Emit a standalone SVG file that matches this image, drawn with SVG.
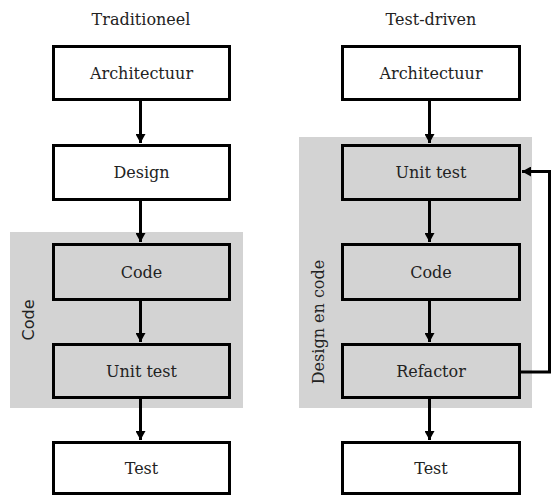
<svg xmlns="http://www.w3.org/2000/svg" width="552" height="496" viewBox="0 0 552 496">
<style>
.box{stroke:#000;stroke-width:3}
.w{fill:#fff}
.g{fill:#d3d3d3}
.lbl{font-family:"DejaVu Serif","Liberation Serif",serif;font-size:16px;fill:#222;text-anchor:middle}
.conn{stroke:#000;stroke-width:3;fill:none}
</style>
<defs>
<marker id="ah" markerWidth="12" markerHeight="10" refX="9" refY="5" orient="auto" markerUnits="userSpaceOnUse">
<path d="M0,0 L9,5 L0,10 Z" fill="#000"/>
</marker>
</defs>
<rect width="552" height="496" fill="#fff"/>
<g id="group-code">
<rect x="10" y="232" width="233" height="176" fill="#d3d3d3"/>
<text class="lbl" transform="translate(34,320) rotate(-90)" style="font-family:'DejaVu Sans',sans-serif">Code</text>
</g>
<g id="group-design-en-code">
<rect x="299" y="137" width="233" height="271" fill="#d3d3d3"/>
<text class="lbl" transform="translate(324,322) rotate(-90)">Design en code</text>
</g>
<g id="title-left"><text class="lbl" x="141" y="25">Traditioneel</text></g>
<g id="title-right"><text class="lbl" x="431" y="25">Test-driven</text></g>
<g id="l-arch"><rect class="box w" x="53.5" y="46.5" width="176" height="53"/><text class="lbl" x="141.5" y="79">Architectuur</text></g>
<g id="l-design"><rect class="box w" x="53.5" y="145.5" width="176" height="54"/><text class="lbl" x="141.5" y="178">Design</text></g>
<g id="l-code"><rect class="box g" x="53.5" y="244.5" width="176" height="55"/><text class="lbl" x="141.5" y="278">Code</text></g>
<g id="l-unit"><rect class="box g" x="53.5" y="344.5" width="176" height="53"/><text class="lbl" x="141.5" y="377">Unit test</text></g>
<g id="l-test"><rect class="box w" x="53.5" y="442.5" width="176" height="51"/><text class="lbl" x="141.5" y="474">Test</text></g>
<g id="r-arch"><rect class="box w" x="342.5" y="46.5" width="177" height="53"/><text class="lbl" x="431" y="79">Architectuur</text></g>
<g id="r-unit"><rect class="box g" x="342.5" y="145.5" width="177" height="54"/><text class="lbl" x="431" y="178">Unit test</text></g>
<g id="r-code"><rect class="box g" x="342.5" y="244.5" width="177" height="55"/><text class="lbl" x="431" y="278">Code</text></g>
<g id="r-refactor"><rect class="box g" x="342.5" y="344.5" width="177" height="53"/><text class="lbl" x="431" y="377">Refactor</text></g>
<g id="r-test"><rect class="box w" x="342.5" y="442.5" width="177" height="51"/><text class="lbl" x="431" y="474">Test</text></g>
<g id="connectors">
<line class="conn" x1="140.5" y1="101" x2="140.5" y2="143" marker-end="url(#ah)"/>
<line class="conn" x1="140.5" y1="201" x2="140.5" y2="242" marker-end="url(#ah)"/>
<line class="conn" x1="140.5" y1="301" x2="140.5" y2="342" marker-end="url(#ah)"/>
<line class="conn" x1="140.5" y1="399" x2="140.5" y2="440" marker-end="url(#ah)"/>
<line class="conn" x1="429.5" y1="101" x2="429.5" y2="143" marker-end="url(#ah)"/>
<line class="conn" x1="429.5" y1="201" x2="429.5" y2="242" marker-end="url(#ah)"/>
<line class="conn" x1="429.5" y1="301" x2="429.5" y2="342" marker-end="url(#ah)"/>
<line class="conn" x1="429.5" y1="399" x2="429.5" y2="440" marker-end="url(#ah)"/>
<polyline class="conn" points="521,372 549.5,372 549.5,171.5 522,171.5" marker-end="url(#ah)"/>
</g>
</svg>
